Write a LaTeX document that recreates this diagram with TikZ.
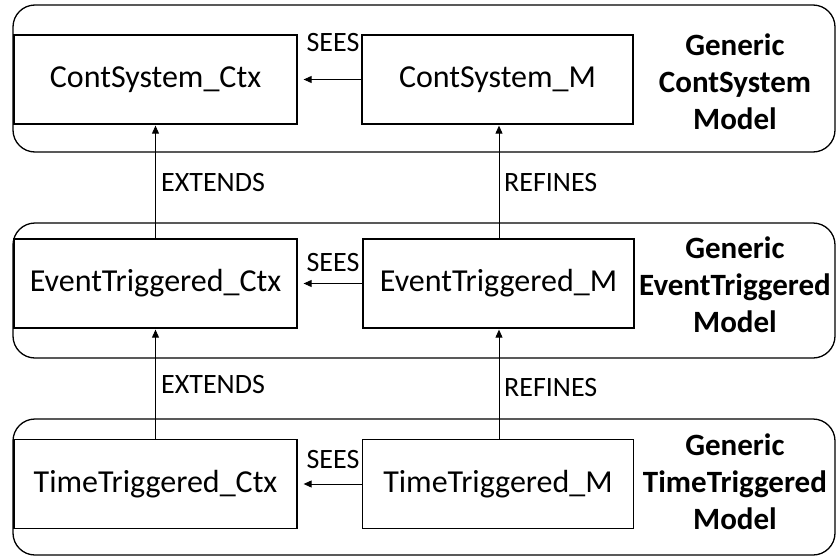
\documentclass[tikz,border=0pt]{standalone}
\usepackage{fontspec}
\setmainfont{Carlito}
\usetikzlibrary{arrows.meta}
\begin{document}
\begin{tikzpicture}[x=1pt,y=-1pt,
  group/.style={draw, line width=1.3pt, rounded corners=22pt, rectangle, inner sep=0pt, minimum width=822pt},
  compbox/.style={draw, line width=1.3pt, rectangle, inner sep=0pt, minimum height=89pt, font=\fontsize{32}{38}\selectfont},
  ctxbox/.style={compbox, minimum width=283pt},
  mbox/.style={compbox, minimum width=271pt},
  modellabel/.style={align=center, inner sep=0pt, font=\fontsize{31}{37}\selectfont\bfseries},
  rellabel/.style={inner sep=0pt, font=\fontsize{28}{33}\selectfont},
  conn/.style={line width=0.9pt, -{Triangle[length=8pt,width=7pt]}}
]
\useasboundingbox (0,0) rectangle (836,557);

% group frames
\node[group, minimum height=147pt] (g1) at (424,78.5) {};
\node[group, minimum height=135pt] (g2) at (424,290.5) {};
\node[group, minimum height=136pt] (g3) at (424,487) {};

% boxes
\node[ctxbox] (c1) at (155.5,79.5) {ContSystem\_Ctx};
\node[mbox]   (m1) at (497.5,79.5) {ContSystem\_M};
\node[ctxbox] (c2) at (155.5,283.5) {EventTriggered\_Ctx};
\node[mbox]   (m2) at (498.5,283.5) {EventTriggered\_M};
\node[ctxbox] (c3) at (155.5,484) {TimeTriggered\_Ctx};
\node[mbox]   (m3) at (498,484) {TimeTriggered\_M};

% model labels
\node[modellabel] (l1) at (735,82) {Generic\\ContSystem\\Model};
\node[modellabel] (l2) at (735,285) {Generic\\EventTriggered\\Model};
\node[modellabel] (l3) at (735,482) {Generic\\TimeTriggered\\Model};

% SEES
\draw[conn, shorten >=6pt] (m1.west) -- (c1.east);
\draw[conn, shorten >=6pt] (m2.west) -- (c2.east);
\draw[conn, shorten >=6pt] (m3.west) -- (c3.east);
\node[rellabel] (s1) at (333,43) {SEES};
\node[rellabel] (s2) at (333,263) {SEES};
\node[rellabel] (s3) at (333,460) {SEES};

% EXTENDS / REFINES
\draw[conn, shorten >=1pt] (c2.north) -- (c1.south);
\draw[conn, shorten >=1pt] (c3.north) -- (c2.south);
\draw[conn, shorten >=1pt] (m2.north -| 499,0) -- (m1.south -| 499,0);
\draw[conn, shorten >=1pt] (m3.north -| 499,0) -- (m2.south -| 499,0);
\node[rellabel, anchor=west] (e1) at (161,183) {EXTENDS};
\node[rellabel, anchor=west] (e2) at (161,385) {EXTENDS};
\node[rellabel, anchor=west] (r1) at (504,183) {REFINES};
\node[rellabel, anchor=west] (r2) at (504,388) {REFINES};
\end{tikzpicture}
\end{document}
